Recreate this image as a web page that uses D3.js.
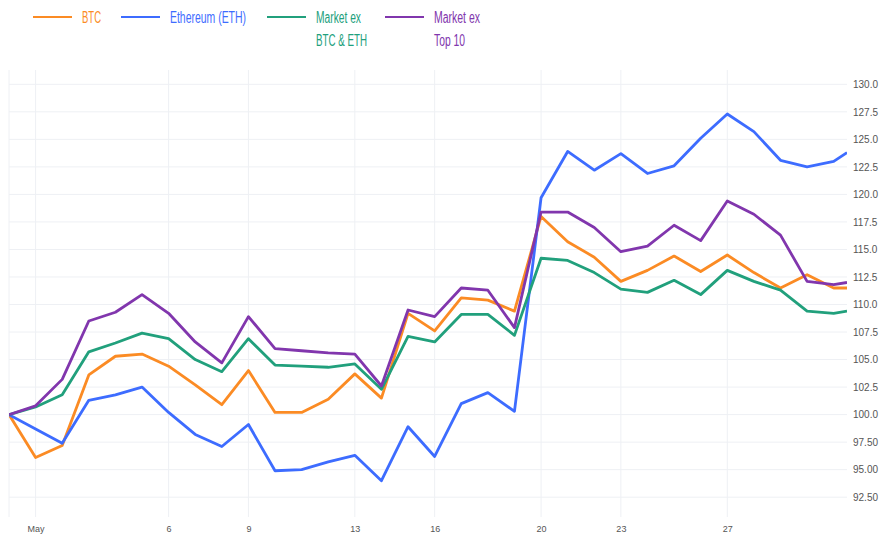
<!DOCTYPE html>
<html>
<head>
<meta charset="utf-8">
<script src="https://cdn.jsdelivr.net/npm/d3@7"></script>
<style>
  body { margin: 0; background: #fff; }
  svg { display: block; font-family: "Liberation Sans", Arial, sans-serif; }
</style>
</head>
<body>
<div id="chart"></div>
<script>
// daily index values, 30 Apr = 100 (last point is an intraday reading)
const dates = ['2021-04-30','2021-05-01','2021-05-02','2021-05-03','2021-05-04','2021-05-05',
  '2021-05-06','2021-05-07','2021-05-08','2021-05-09','2021-05-10','2021-05-11','2021-05-12',
  '2021-05-13','2021-05-14','2021-05-15','2021-05-16','2021-05-17','2021-05-18','2021-05-19',
  '2021-05-20','2021-05-21','2021-05-22','2021-05-23','2021-05-24','2021-05-25','2021-05-26',
  '2021-05-27','2021-05-28','2021-05-29','2021-05-30','2021-05-31','2021-05-31T12:00'];

const btc = [100, 96.1, 97.2, 103.6, 105.3, 105.5, 104.4, 102.7, 100.9, 104.0, 100.2, 100.2, 101.4,
  103.7, 101.5, 109.2, 107.6, 110.6, 110.4, 109.4, 118.0, 115.7, 114.3, 112.1, 113.1, 114.4, 113.0,
  114.5, 112.9, 111.5, 112.7, 111.5, 111.5];
const eth = [100, 98.7, 97.4, 101.3, 101.8, 102.5, 100.2, 98.2, 97.1, 99.1, 94.9, 95.0, 95.7,
  96.3, 94.0, 98.9, 96.2, 101.0, 102.0, 100.3, 119.7, 123.9, 122.2, 123.7, 121.9, 122.6, 125.1,
  127.3, 125.7, 123.1, 122.5, 123.0, 123.8];
const exBtcEth = [100, 100.7, 101.8, 105.7, 106.5, 107.4, 106.9, 105.0, 103.9, 106.9, 104.5, 104.4, 104.3,
  104.6, 102.3, 107.1, 106.6, 109.1, 109.1, 107.2, 114.2, 114.0, 112.9, 111.4, 111.1, 112.2, 110.9,
  113.1, 112.1, 111.3, 109.4, 109.2, 109.4];
const exTop10 = [100, 100.8, 103.2, 108.5, 109.3, 110.9, 109.2, 106.6, 104.7, 108.9, 106.0, 105.8, 105.6,
  105.5, 102.6, 109.5, 108.9, 111.5, 111.3, 107.9, 118.4, 118.4, 117.0, 114.8, 115.3, 117.2, 115.8,
  119.4, 118.2, 116.3, 112.1, 111.8, 112.0];

const seriesNames = ['BTC', 'Ethereum (ETH)', 'Market ex|BTC & ETH', 'Market ex|Top 10'];
const seriesColors = ['#fb8b24', '#3d6cff', '#21a07c', '#8136ad'];

const xTickDates = ['2021-05-01','2021-05-06','2021-05-09','2021-05-13','2021-05-16','2021-05-20','2021-05-23','2021-05-27'];
const xTickLabels = ['May', '6', '9', '13', '16', '20', '23', '27'];
const yTickValues = [130, 127.5, 125, 122.5, 120, 117.5, 115, 112.5, 110, 107.5, 105, 102.5, 100, 97.5, 95, 92.5];
const yTickLabels = ['130.0','127.5','125.0','122.5','120.0','117.5','115.0','112.5','110.0','107.5','105.0','102.5','100.0','97.50','95.00','92.50'];

const w = 880, h = 538;
const plotLeft = 9, plotRight = 847, plotTop = 70, plotBottom = 517;

const parse = d3.isoParse;
const x = d3.scaleTime()
  .domain([parse('2021-04-30'), parse('2021-05-31T12:00')])
  .range([plotLeft, plotRight]);
const y = d3.scaleLinear()
  .domain([90.7, 131.3])
  .range([plotBottom, plotTop]);

const svg = d3.select('#chart').append('svg')
  .attr('width', w)
  .attr('height', h);

// grid
svg.append('g').selectAll('line')
  .data(yTickValues)
  .enter().append('line')
  .attr('x1', plotLeft).attr('x2', plotRight)
  .attr('y1', d => y(d)).attr('y2', d => y(d))
  .attr('stroke', '#eef0f4').attr('stroke-width', 1);

svg.append('g').selectAll('line')
  .data([parse('2021-04-30')].concat(xTickDates.map(parse)))
  .enter().append('line')
  .attr('x1', d => x(d)).attr('x2', d => x(d))
  .attr('y1', plotTop).attr('y2', plotBottom)
  .attr('stroke', '#eef0f4').attr('stroke-width', 1);

// axes
const xAxis = d3.axisBottom(x)
  .tickValues(xTickDates.map(parse))
  .tickFormat((d, i) => xTickLabels[i])
  .tickSize(0);
const gx = svg.append('g')
  .attr('transform', 'translate(0,' + (plotBottom + 6) + ')')
  .call(xAxis);
gx.select('.domain').remove();
gx.selectAll('text').attr('fill', '#555').style('font-size', '9px');

const yAxis = d3.axisRight(y)
  .tickValues(yTickValues)
  .tickFormat((d, i) => yTickLabels[i])
  .tickSize(0);
const gy = svg.append('g')
  .attr('transform', 'translate(' + (plotRight + 6) + ',0)')
  .call(yAxis);
gy.select('.domain').remove();
gy.selectAll('text').attr('fill', '#555').attr('x', 0).style('font-size', '10px');

// lines
svg.append('clipPath').attr('id', 'plot-clip')
  .append('rect').attr('x', plotLeft).attr('y', plotTop)
  .attr('width', plotRight - plotLeft).attr('height', plotBottom - plotTop);

const line = d3.line()
  .x((d, i) => x(parse(dates[i])))
  .y(d => y(d));

const allSeries = [btc, eth, exBtcEth, exTop10];
svg.append('g').attr('clip-path', 'url(#plot-clip)')
  .selectAll('path')
  .data(allSeries)
  .enter().append('path')
  .attr('d', line)
  .attr('fill', 'none')
  .attr('stroke', (d, i) => seriesColors[i])
  .attr('stroke-width', 2.8)
  .attr('stroke-linejoin', 'round');

// legend
const legendX = [33, 121, 267, 385];
const legendText = [[19], [76], [45, 51], [46, 31]];
const legend = svg.append('g').selectAll('g')
  .data(seriesNames)
  .enter().append('g')
  .attr('transform', (d, i) => 'translate(' + legendX[i] + ',17)');

legend.append('line')
  .attr('x1', 0).attr('x2', 39)
  .attr('stroke', (d, i) => seriesColors[i])
  .attr('stroke-width', 2);

legend.each(function(d, i) {
  const g = d3.select(this);
  d.split('|').forEach((t, j) => {
    g.append('text')
      .attr('x', 49)
      .attr('y', j * 23)
      .attr('dy', '0.36em')
      .attr('fill', seriesColors[i])
      .attr('textLength', legendText[i][j])
      .attr('lengthAdjust', 'spacingAndGlyphs')
      .style('font-size', '16px')
      .text(t);
  });
});
</script>
</body>
</html>
